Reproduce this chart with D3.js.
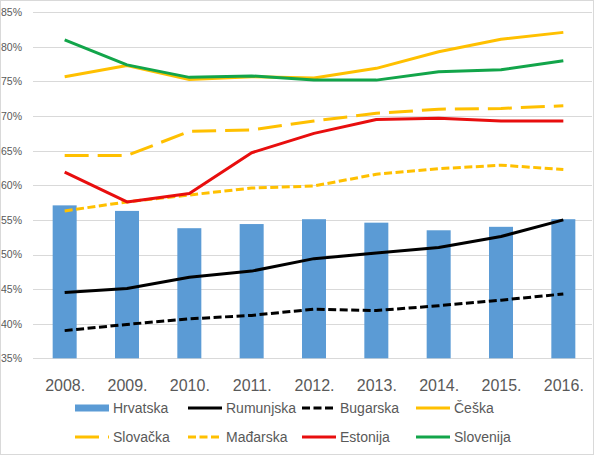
<!DOCTYPE html>
<html>
<head>
<meta charset="utf-8">
<script src="https://cdn.jsdelivr.net/npm/d3@7"></script>
<style>
  html, body { margin: 0; padding: 0; background: #fff; }
  svg { display: block; }
  text { font-family: "Liberation Sans", Arial, sans-serif; fill: #595959; }
</style>
</head>
<body>
<svg id="chart" width="595" height="456"></svg>
<script>
const years = ["2008.", "2009.", "2010.", "2011.", "2012.", "2013.", "2014.", "2015.", "2016."];
const yTicks = [35, 40, 45, 50, 55, 60, 65, 70, 75, 80, 85];
const hrvatska  = [57.1, 56.3, 53.8, 54.4, 55.1, 54.6, 53.5, 54.0, 55.1];
const rumunjska = [44.5, 45.1, 46.7, 47.6, 49.4, 50.2, 51.0, 52.6, 55.0];
const bugarska  = [39.0, 39.9, 40.7, 41.2, 42.1, 41.9, 42.6, 43.4, 44.3];
const ceska     = [75.7, 77.3, 75.3, 75.7, 75.5, 76.9, 79.3, 81.1, 82.1];
const slovacka  = [64.3, 64.3, 67.8, 68.0, 69.3, 70.4, 71.0, 71.1, 71.5];
const madarska  = [56.3, 57.6, 58.6, 59.6, 59.9, 61.6, 62.4, 62.9, 62.3];
const estonija  = [61.9, 57.6, 58.8, 64.7, 67.5, 69.5, 69.7, 69.3, 69.3];
const slovenija = [81.0, 77.4, 75.6, 75.8, 75.2, 75.2, 76.4, 76.7, 78.0];

const lineSeries = [
  { name: "Rumunjska", values: rumunjska, color: "#000000", dash: null },
  { name: "Bugarska",  values: bugarska,  color: "#000000", dash: "8,3.5" },
  { name: "Češka",     values: ceska,     color: "#ffc000", dash: null },
  { name: "Slovačka",  values: slovacka,  color: "#ffc000", dash: "24,9" },
  { name: "Mađarska",  values: madarska,  color: "#ffc000", dash: "8,3.5" },
  { name: "Estonija",  values: estonija,  color: "#e80e0e", dash: null },
  { name: "Slovenija", values: slovenija, color: "#12a54a", dash: null }
];

const svg = d3.select("#chart");
const W = 595, H = 456;
const plotLeft = 33.5, plotRight = 594.5, gridRight = 592;

svg.append("rect").attr("x", 0).attr("y", 0).attr("width", W).attr("height", H).attr("fill", "#fff");

const x = d3.scalePoint().domain(years).range([plotLeft, plotRight]).padding(0.5);
const step = x.step();
const y = d3.scaleLinear().domain([35, 85]).range([358.3, 12.3]);

// gridlines
svg.append("g").selectAll("line").data(yTicks).join("line")
  .attr("x1", plotLeft - 0.5).attr("x2", gridRight)
  .attr("y1", d => Math.round(y(d)) + 0.5).attr("y2", d => Math.round(y(d)) + 0.5)
  .attr("stroke", "#d9d9d9").attr("stroke-width", 1);

// y labels
const yAxis = d3.axisLeft(y).tickValues(yTicks).tickFormat(d => d + "%").tickSize(0).tickPadding(0);
const gy = svg.append("g").attr("transform", "translate(22,0)").call(yAxis);
gy.select(".domain").remove();
gy.selectAll("text").attr("font-size", "10.5px").attr("fill", "#595959")
  .attr("font-family", "'Liberation Sans', Arial, sans-serif");

// bars
const barW = step * 0.385;
svg.append("g").selectAll("rect").data(hrvatska).join("rect")
  .attr("x", (d, i) => x(years[i]) - barW / 2)
  .attr("width", barW)
  .attr("y", d => y(d))
  .attr("height", d => y(35) - y(d))
  .attr("fill", "#5b9bd5");

// lines
const line = d3.line()
  .x((d, i) => x(years[i]))
  .y(d => y(d));

svg.append("g").selectAll("path").data(lineSeries).join("path")
  .attr("d", d => line(d.values))
  .attr("fill", "none")
  .attr("stroke", d => d.color)
  .attr("stroke-width", 3)
  .attr("stroke-linejoin", "round")
  .attr("stroke-dasharray", d => d.dash);

// x labels
const xAxis = d3.axisBottom(x).tickSize(0).tickPadding(0);
const gx = svg.append("g").attr("transform", "translate(0,381)").call(xAxis);
gx.select(".domain").remove();
gx.selectAll("text").attr("font-size", "16px").attr("fill", "#595959")
  .attr("font-family", "'Liberation Sans', Arial, sans-serif").attr("dy", "0.6em");

// legend
const legendItems = [
  { name: "Hrvatska", type: "bar", color: "#5b9bd5", dash: null },
  ...lineSeries.map(s => ({ name: s.name, type: "line", color: s.color, dash: s.dash }))
];
const colX = [75, 188, 302, 416];
const rowY = [408, 437];
const lg = svg.append("g");
legendItems.forEach((d, i) => {
  const cx = colX[i % 4], cy = rowY[Math.floor(i / 4)];
  if (d.type === "bar") {
    lg.append("rect").attr("x", cx).attr("y", cy - 3.5).attr("width", 34).attr("height", 7).attr("fill", d.color);
  } else {
    lg.append("line").attr("x1", cx).attr("x2", cx + 34).attr("y1", cy).attr("y2", cy)
      .attr("stroke", d.color).attr("stroke-width", 3).attr("stroke-dasharray", d.dash);
  }
  lg.append("text").attr("x", cx + 38).attr("y", cy).attr("dy", "0.35em")
    .attr("font-size", "14px").text(d.name);
});

// chart border
svg.append("rect").attr("x", 0.5).attr("y", 0.5).attr("width", W - 2).attr("height", H - 2)
  .attr("fill", "none").attr("stroke", "#d9d9d9").attr("stroke-width", 1);
</script>
</body>
</html>
